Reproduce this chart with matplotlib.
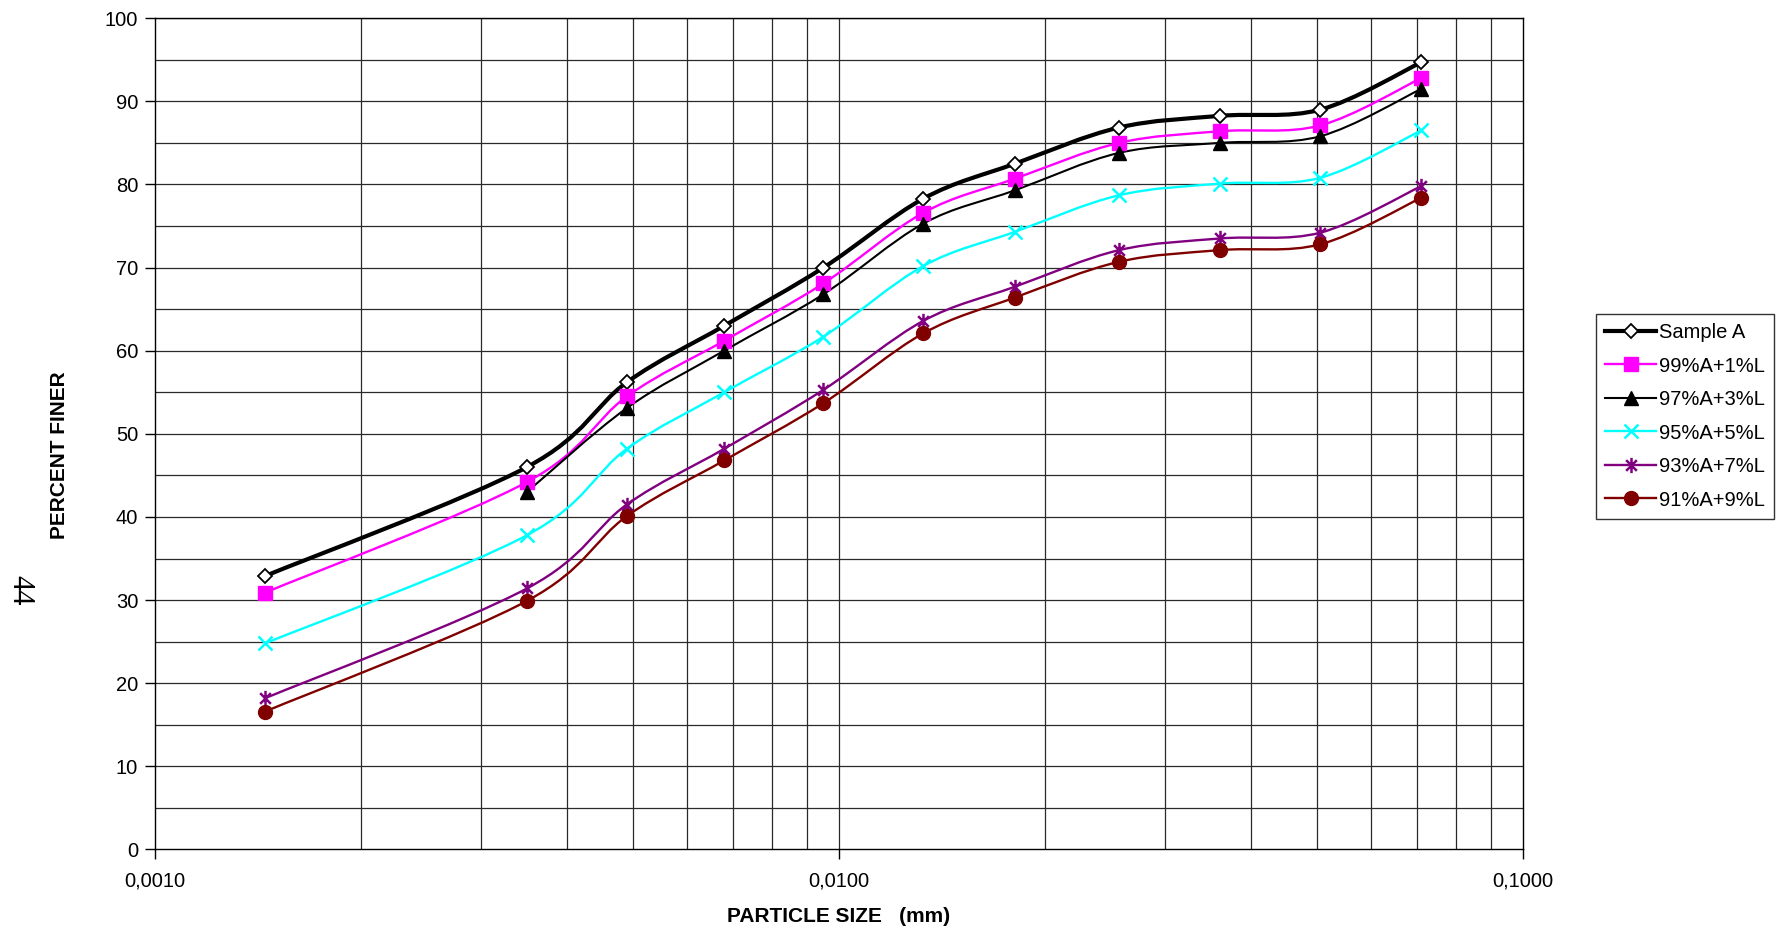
import numpy as np
import matplotlib
matplotlib.use("Agg")
import matplotlib.pyplot as plt
from matplotlib.path import Path
from matplotlib.patches import PathPatch
from matplotlib.lines import Line2D
from matplotlib.ticker import FixedLocator, NullFormatter

plt.rcParams["font.family"] = ["Liberation Sans", "DejaVu Sans"]

# particle size (mm)
sizes = [0.00145, 0.0035, 0.0049, 0.0068, 0.0095, 0.0133, 0.0181, 0.0257, 0.0361, 0.0506, 0.0711]

sample_a = [32.9, 46.0, 56.2, 63.0, 70.0, 78.3, 82.5, 86.85, 88.25, 89.0, 94.7]
mix_99 = [30.9, 44.2, 54.5, 61.2, 68.1, 76.6, 80.7, 85.0, 86.4, 87.1, 92.8]
mix_97 = [np.nan, 43.0, 53.1, 60.0, 66.8, 75.3, 79.3, 83.8, 85.0, 85.8, 91.5]
mix_95 = [24.8, 37.8, 48.2, 55.0, 61.7, 70.2, 74.3, 78.7, 80.1, 80.8, 86.5]
mix_93 = [18.2, 31.4, 41.5, 48.2, 55.3, 63.6, 67.7, 72.1, 73.5, 74.2, 79.8]
mix_91 = [16.6, 29.9, 40.1, 46.8, 53.7, 62.1, 66.4, 70.7, 72.1, 72.8, 78.4]

labels = ["Sample A", "99%A+1%L", "97%A+3%L", "95%A+5%L", "93%A+7%L", "91%A+9%L"]
series = [sample_a, mix_99, mix_97, mix_95, mix_93, mix_91]

# excel style asterisk marker: x plus vertical bar
star = Path(
    [(-0.7, -0.7), (0.7, 0.7), (-0.7, 0.7), (0.7, -0.7), (0, -1), (0, 1)],
    [Path.MOVETO, Path.LINETO, Path.MOVETO, Path.LINETO, Path.MOVETO, Path.LINETO],
)

styles = [
    dict(color="black", lw=3.0, marker="D", ms=7, mfc="white", mec="black", mew=1.3),
    dict(color="#FF00FF", lw=1.7, marker="s", ms=9.5, mfc="#FF00FF", mec="#FF00FF", mew=1),
    dict(color="black", lw=1.5, marker="^", ms=9.5, mfc="black", mec="black", mew=1),
    dict(color="#00FFFF", lw=1.7, marker="x", ms=10, mfc="#00FFFF", mec="#00FFFF", mew=1.8),
    dict(color="#800080", lw=1.7, marker=star, ms=11, mfc="#800080", mec="#800080", mew=1.8),
    dict(color="#800000", lw=1.7, marker="o", ms=10, mfc="#800000", mec="#800000", mew=1),
]


def smooth_path(xs, ys, t=1.0 / 6.0):
    # bezier curve through the points, control points built in log-x space
    lx = np.log10(xs)
    y = np.asarray(ys, dtype=float)
    pts = np.column_stack([lx, y])
    n = len(pts)
    verts = [pts[0]]
    codes = [Path.MOVETO]
    for i in range(n - 1):
        p0 = pts[i - 1] if i > 0 else pts[i]
        p1 = pts[i]
        p2 = pts[i + 1]
        p3 = pts[i + 2] if i + 2 < n else pts[i + 1]
        c1 = p1 + (p2 - p0) * t
        c2 = p2 - (p3 - p1) * t
        verts += [c1, c2, p2]
        codes += [Path.CURVE4] * 3
    verts = np.array(verts)
    verts[:, 0] = 10 ** verts[:, 0]
    return Path(verts, codes)


fig = plt.figure(figsize=(17.83, 9.33), dpi=100)
ax = fig.add_axes([0.0868, 0.0895, 0.7672, 0.891])

ax.set_xscale("log")
ax.set_xlim(0.001, 0.1)
ax.set_ylim(0, 100)

# grid
ax.set_yticks(np.arange(0, 101, 10))
ax.yaxis.set_minor_locator(FixedLocator(np.arange(5, 100, 10)))
for v in np.arange(5, 101, 5):
    ax.axhline(v, color="#2a2a2a", lw=0.9, zorder=1)
minor_x = [m * 10.0 ** e for e in (-3, -2) for m in range(2, 10)]
for v in minor_x + [0.01]:
    ax.axvline(v, color="#2a2a2a", lw=0.9, zorder=1)
ax.xaxis.set_minor_locator(FixedLocator(minor_x))
ax.xaxis.set_minor_formatter(NullFormatter())
ax.set_xticks([0.001, 0.01, 0.1])
ax.set_xticklabels(["0,0010", "0,0100", "0,1000"])

ax.tick_params(axis="both", which="major", direction="out", length=7, width=1, labelsize=14.5, color="black")
ax.tick_params(axis="x", which="major", pad=9)
ax.tick_params(axis="y", which="major", pad=5)
ax.tick_params(which="minor", length=0)
for sp in ax.spines.values():
    sp.set_color("black")
    sp.set_linewidth(1.0)

handles = []
for lab, vals, st in zip(labels, series, styles):
    x = np.array(sizes)
    y = np.array(vals, dtype=float)
    ok = ~np.isnan(y)
    patch = PathPatch(smooth_path(x[ok], y[ok]), facecolor="none", edgecolor=st["color"],
                      lw=st["lw"], zorder=3, capstyle="round", joinstyle="round")
    ax.add_patch(patch)
    ax.plot(x[ok], y[ok], linestyle="none", marker=st["marker"], ms=st["ms"],
            mfc=st["mfc"], mec=st["mec"], mew=st["mew"], zorder=4)
    handles.append(Line2D([], [], color=st["color"], lw=st["lw"], marker=st["marker"], ms=st["ms"],
                          mfc=st["mfc"], mec=st["mec"], mew=st["mew"], label=lab))

ax.set_xlabel("PARTICLE SIZE   (mm)", fontsize=15, fontweight="bold", labelpad=12)
fig.text(60 / 1783, 1 - 455 / 933, "PERCENT FINER", rotation=90, fontsize=15, fontweight="bold",
         ha="center", va="center")

leg = fig.legend(handles=handles, loc="upper left", bbox_to_anchor=(0.8951, 0.6635),
                 fontsize=14.5, frameon=True, fancybox=False, edgecolor="black",
                 handlelength=2.55, handletextpad=0.15, borderpad=0.45, labelspacing=0.72,
                 borderaxespad=0)
leg.get_frame().set_linewidth(1.0)

fig.text(0.0112, 1 - 590 / 933, "44", rotation=-90, fontsize=22, family="Liberation Serif",
         ha="center", va="center")

fig.savefig("out.png", dpi=100, facecolor="white")
